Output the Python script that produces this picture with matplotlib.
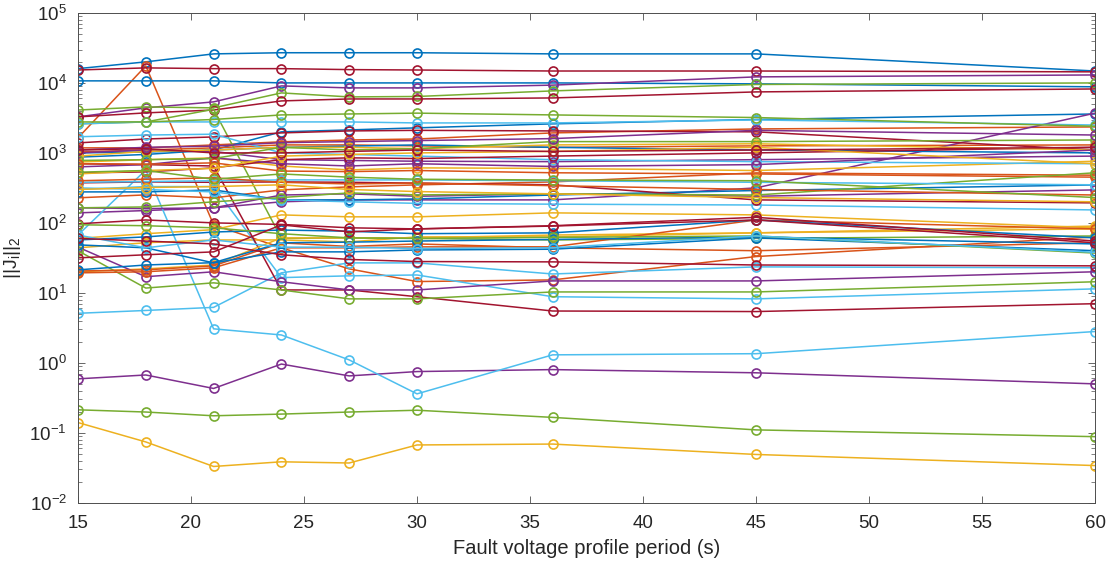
import matplotlib
matplotlib.use("Agg")
import matplotlib.pyplot as plt
from matplotlib.ticker import LogLocator, NullFormatter

# fault voltage profile periods (s)
periods = [15, 18, 21, 24, 27, 30, 36, 45, 60]

# ||J_i||_2 per parameter, grouped by the colour MATLAB gave them
blue_series = [
    [1.6e4, 2.0e4, 2.6e4, 2.7e4, 2.7e4, 2.7e4, 2.6e4, 2.6e4, 1.48e4],
    [1.07e4, 1.07e4, 1.07e4, 1.0e4, 1.0e4, 1.0e4, 1.0e4, 9.7e3, 8.8e3],
    [870, 950, 1.1e3, 2.0e3, 2.13e3, 2.28e3, 2.6e3, 3.0e3, 3.6e3],
    [1.0e3, 1.03e3, 1.1e3, 1.2e3, 1.25e3, 1.3e3, 1.2e3, 1.1e3, 1.0e3],
    [277, 277, 296, 213, 213, 220, 250, 290, 349],
    [57, 63, 74, 79, 76, 70, 72, 110, 61],
    [48.5, 44, 26.8, 38.5, 38.5, 41, 42, 61, 40],
    [21.3, 25, 27, 52, 53, 55, 58, 63, 50],
]
orange_series = [
    [1.64e3, 1.75e4, 94, 44, 22, 14.5, 15.3, 33, 63],
    [1.18e3, 1.18e3, 1.3e3, 1.44e3, 1.53e3, 1.58e3, 1.93e3, 2.2e3, 2.35e3],
    [1.03e3, 1.1e3, 1.18e3, 1.3e3, 1.3e3, 1.26e3, 1.2e3, 1.26e3, 1.3e3],
    [228, 251, 228, 296, 327, 349, 385, 518, 480],
    [19.3, 20, 22.8, 44, 44, 45.4, 45.4, 110, 82],
    [20.5, 21.3, 24.3, 51.8, 46, 50, 44, 40, 52],
    [700, 690, 720, 550, 540, 560, 520, 500, 450],
    [400, 420, 440, 380, 360, 370, 340, 300, 250],
]
yellow_series = [
    [0.14, 0.074, 0.033, 0.0385, 0.037, 0.067, 0.069, 0.049, 0.034],
    [44, 52, 57, 57, 53.5, 63, 63, 72, 82],
    [60, 70, 80, 130, 122, 122, 139, 130, 85],
    [20, 22, 25, 61, 61, 61, 67, 72, 90],
    [740, 800, 850, 650, 571, 611, 600, 560, 760],
    [900, 1.05e3, 1.1e3, 1.2e3, 1.2e3, 1.15e3, 1.3e3, 1.35e3, 1.1e3],
    [500, 560, 600, 900, 950, 1.0e3, 1.05e3, 1.2e3, 700],
    [300, 320, 330, 350, 300, 280, 260, 230, 200],
]
purple_series = [
    [0.59, 0.67, 0.43, 0.96, 0.65, 0.75, 0.80, 0.72, 0.50],
    [3.27e3, 4.4e3, 5.36e3, 9.06e3, 8.49e3, 8.49e3, 9.3e3, 1.22e4, 1.3e4],
    [139, 150, 164, 200, 213, 213, 213, 316, 3.7e3],
    [45, 17, 20, 14.4, 11, 11, 14.8, 14.8, 20],
    [1.0e3, 1.1e3, 1.05e3, 800, 780, 760, 750, 800, 900],
    [631, 680, 850, 700, 650, 700, 640, 680, 1.1e3],
    [164, 160, 164, 250, 260, 240, 260, 240, 296],
    [1.1e3, 1.2e3, 1.25e3, 1.4e3, 1.45e3, 1.5e3, 1.6e3, 2.1e3, 1.8e3],
]
green_series = [
    [0.213, 0.198, 0.175, 0.185, 0.198, 0.21, 0.166, 0.11, 0.088],
    [4.1e3, 4.54e3, 4.4e3, 7.2e3, 6.31e3, 6.4e3, 7.69e3, 9.5e3, 1.0e4],
    [2.6e3, 2.77e3, 4.2e3, 60, 61, 60, 57, 60, 65],
    [40, 11.7, 13.9, 11, 8.2, 8.2, 10.3, 10.3, 14.4],
    [2.77e3, 2.77e3, 3.0e3, 3.49e3, 3.6e3, 3.7e3, 3.49e3, 3.2e3, 2.4e3],
    [780, 800, 830, 1.2e3, 1.1e3, 1.15e3, 1.45e3, 1.45e3, 1.53e3],
    [164, 169, 200, 230, 268, 251, 260, 250, 520],
    [94, 91, 85, 70, 61, 60, 62, 65, 37],
    [530, 560, 420, 500, 450, 420, 410, 400, 230],
]
lightblue_series = [
    [5.1, 5.6, 6.2, 19.3, 26.8, 26.8, 18.6, 23.5, 22.8],
    [300, 330, 330, 16.5, 17.5, 18, 8.8, 8.2, 11.4],
    [67, 570, 3.06, 2.5, 1.1, 0.36, 1.3, 1.35, 2.8],
    [2.6e3, 2.77e3, 2.77e3, 2.77e3, 2.77e3, 2.68e3, 2.68e3, 2.96e3, 2.5e3],
    [1.7e3, 1.8e3, 1.85e3, 1.0e3, 950, 900, 800, 750, 700],
    [316, 300, 277, 213, 200, 190, 185, 180, 153],
    [380, 390, 400, 411, 411, 411, 400, 380, 350],
    [67, 44, 57, 45, 45, 43, 44, 65, 38],
]
darkred_series = [
    [1.53e4, 1.64e4, 1.6e4, 1.6e4, 1.55e4, 1.53e4, 1.48e4, 1.48e4, 1.44e4],
    [3.27e3, 3.73e3, 4.1e3, 5.53e3, 5.9e3, 5.9e3, 6.1e3, 7.44e3, 8.2e3],
    [700, 680, 650, 11, 11, 8.8, 5.5, 5.4, 7.0],
    [1.39e3, 1.58e3, 1.69e3, 1.93e3, 2.06e3, 2.1e3, 2.06e3, 2.0e3, 1.1e3],
    [518, 535, 611, 800, 850, 830, 900, 1.0e3, 1.2e3],
    [373, 385, 380, 385, 380, 370, 350, 213, 193],
    [97, 110, 100, 95, 85, 82, 91, 120, 55],
    [31.6, 35, 38.5, 93.6, 74.4, 82, 90, 110, 52],
    [1.1e3, 1.15e3, 1.0e3, 1.0e3, 1.05e3, 1.1e3, 1.05e3, 1.1e3, 1.2e3],
    [60, 55, 50, 35, 30, 28, 27.7, 25, 24.3],
]

# MATLAB default colour order
groups = [
    ('#0072BD', blue_series),
    ('#D95319', orange_series),
    ('#EDB120', yellow_series),
    ('#7E2F8E', purple_series),
    ('#77AC30', green_series),
    ('#4DBEEE', lightblue_series),
    ('#A2142F', darkred_series),
]

plt.rcParams['font.family'] = ['Liberation Sans', 'DejaVu Sans']
plt.rcParams['mathtext.default'] = 'regular'

fig = plt.figure(figsize=(11.14, 5.63), dpi=100)
ax = fig.add_axes([0.070, 0.107, 0.913, 0.870])

n_max = max(len(s) for _, s in groups)
for i in range(n_max):
    for color, series in groups:
        if i < len(series):
            ax.plot(periods, series[i], '-o', color=color, lw=1.1,
                    markersize=6.5, markerfacecolor='none', markeredgewidth=1.2)

ax.set_yscale('log')
ax.set_xlim(15, 60)
ax.set_ylim(1e-2, 1e5)
ax.set_xticks(range(15, 61, 5))
ax.yaxis.set_major_locator(LogLocator(base=10, numticks=10))
ax.yaxis.set_minor_locator(LogLocator(base=10, subs=range(2, 10), numticks=100))
ax.yaxis.set_minor_formatter(NullFormatter())

ax.tick_params(which='both', direction='in', top=True, right=True,
               colors='#4d4d4d', labelsize=13.5, labelcolor='#262626')
ax.tick_params(axis='x', which='major', pad=9)
ax.tick_params(axis='y', which='major', pad=8)
ax.tick_params(which='major', length=5, width=0.6)
ax.tick_params(which='minor', length=3, width=0.5)
for sp in ax.spines.values():
    sp.set_color('#4d4d4d')
    sp.set_linewidth(0.7)

ax.set_xlabel('Fault voltage profile period (s)', fontsize=14.5, color='#262626',
              labelpad=5)
ax.set_ylabel(r'$||J_i||_2$', fontsize=14, color='#262626')
ax.yaxis.set_label_coords(-0.054, 0.5)

fig.savefig('out.png', dpi=100)
